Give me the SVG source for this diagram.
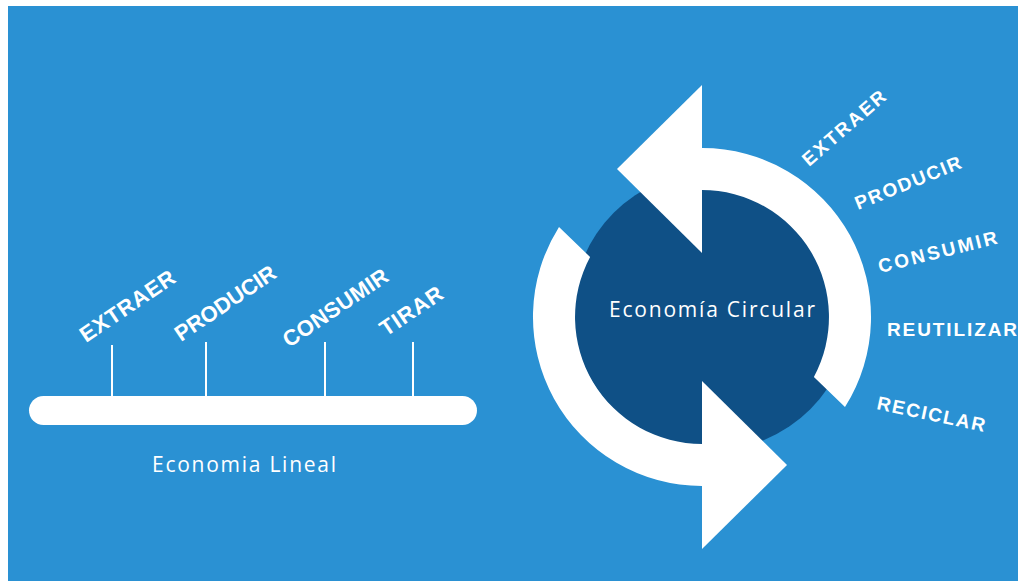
<svg xmlns="http://www.w3.org/2000/svg" width="1018" height="581" viewBox="0 0 1018 581">
<style>
.bold{font-family:"Liberation Sans",Arial,sans-serif;font-weight:bold;fill:#fff;}
.l{font-size:22px;}
.r{font-size:19px;}
.thin{font-family:"Open Sans","Liberation Sans",sans-serif;fill:#fff;font-size:21px;}
.tick{stroke:#fff;stroke-width:2;}
.w{fill:#fff;}
</style>
<rect x="0" y="0" width="1018" height="581" fill="#fff"/>
<rect x="8" y="6" width="1010" height="575" fill="#2A91D3"/>

<g id="lineal">
<rect x="29" y="396" width="448" height="29" rx="14.5" class="w"/>
<text class="thin" x="152" y="472" textLength="184" lengthAdjust="spacing">Economia Lineal</text>
</g>
<g id="connectors">
<line class="tick" x1="112" y1="345" x2="112" y2="396"/>
<line class="tick" x1="206" y1="342" x2="206" y2="396"/>
<line class="tick" x1="325" y1="342" x2="325" y2="396"/>
<line class="tick" x1="413" y1="342" x2="413" y2="396"/>
</g>
<g id="lineal-labels">
<text class="bold l" x="86" y="343" transform="rotate(-34 86 343)" textLength="110" lengthAdjust="spacing">EXTRAER</text>
<text class="bold l" x="181" y="342" transform="rotate(-34 181 342)" textLength="117" lengthAdjust="spacing">PRODUCIR</text>
<text class="bold l" x="289" y="348" transform="rotate(-34 289 348)" textLength="122" lengthAdjust="spacing">CONSUMIR</text>
<text class="bold l" x="386" y="337" transform="rotate(-34 386 337)" textLength="71" lengthAdjust="spacing">TIRAR</text>
</g>

<g id="circular">
<circle cx="712" cy="311" r="139" fill="#0F5086"/>
<path class="w" d="M702,148 A169,169 0 0 1 845,407.1 L813.9,377 A127,127 0 0 0 702,190 Z"/>
<polygon class="w" points="702,85 617,169 702,253"/>
<path class="w" d="M702,486 A169,169 0 0 1 559,226.9 L590.1,257 A127,127 0 0 0 702,444 Z"/>
<polygon class="w" points="702,381 787,465 702,549"/>
<text class="thin" x="609" y="317" textLength="206" lengthAdjust="spacing">Economía Circular</text>
</g>
<g id="circular-labels">
<text class="bold r" x="809" y="167" transform="rotate(-41 809 167)" textLength="104" lengthAdjust="spacing">EXTRAER</text>
<text class="bold r" x="858" y="210" transform="rotate(-22 858 210)" textLength="113" lengthAdjust="spacing">PRODUCIR</text>
<text class="bold r" x="880" y="273" transform="rotate(-14 880 273)" textLength="122" lengthAdjust="spacing">CONSUMIR</text>
<text class="bold r" x="887" y="336" textLength="130" lengthAdjust="spacing">REUTILIZAR</text>
<text class="bold r" x="876" y="409" transform="rotate(12 876 409)" textLength="110" lengthAdjust="spacing">RECICLAR</text>
</g>
</svg>
